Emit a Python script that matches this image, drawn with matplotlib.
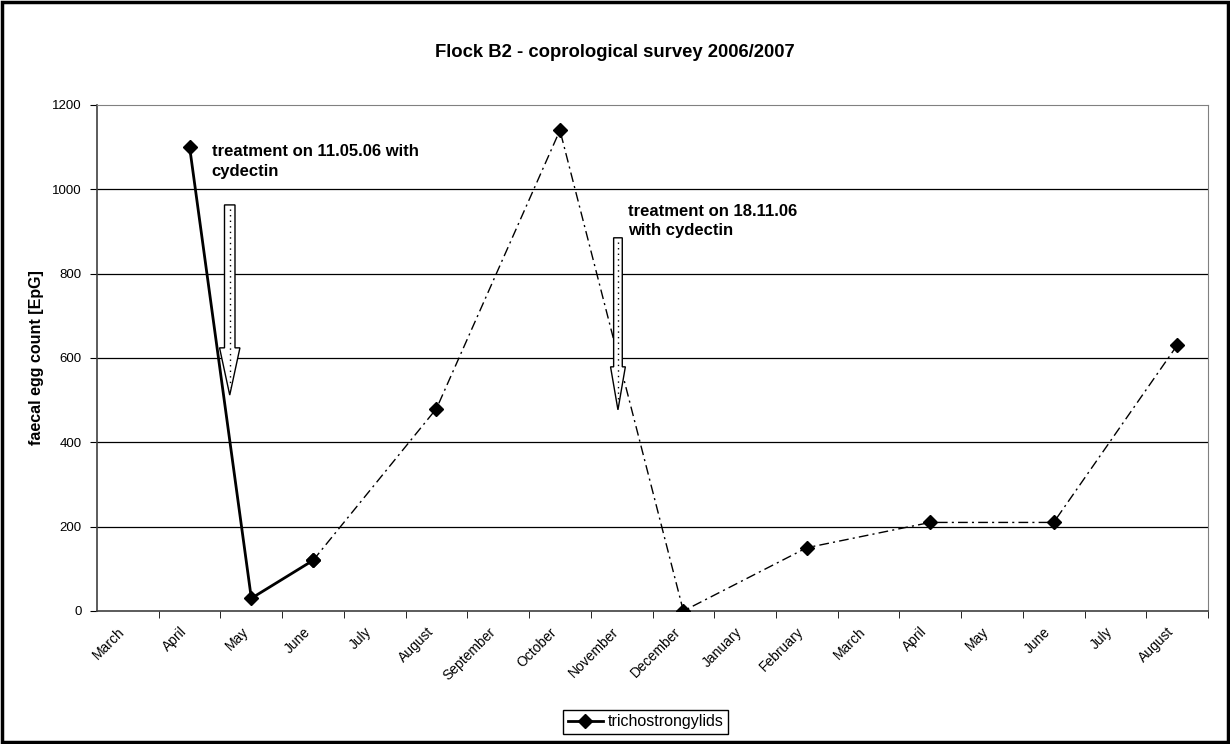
import matplotlib

matplotlib.use("Agg")
import matplotlib.pyplot as plt
from matplotlib.lines import Line2D
from matplotlib.patches import FancyArrow, Rectangle
from matplotlib.transforms import ScaledTranslation

plt.rcParams["font.family"] = ["Liberation Sans", "DejaVu Sans"]

# category axis (months of the survey)
months = ["March", "April", "May", "June", "July", "August", "September",
          "October", "November", "December", "January", "February", "March",
          "April", "May", "June", "July", "August"]

# sampling months (index into months) and egg counts
sample_idx = [1, 2, 3, 5, 7, 9, 11, 13, 15, 17]
epg = [1100, 30, 120, 480, 1140, 0, 150, 210, 210, 630]

fig = plt.figure(figsize=(12.3, 7.44), dpi=100)
ax = fig.add_axes([0.0789, 0.1788, 0.9032, 0.6801])

# gridlines
for yv in [200, 400, 600, 800, 1000]:
    ax.axhline(yv, color="black", lw=0.9, zorder=1)

# solid part (before/around first treatment) and dash-dot remainder
ax.plot(sample_idx[:3], epg[:3], color="black", lw=2.0, marker="D",
        markersize=7, zorder=3)
ax.plot(sample_idx[2:], epg[2:], color="black", lw=1.0,
        linestyle=(0, (7, 3, 1.5, 3)), marker="D", markersize=7, zorder=3)

# treatment arrows
def block_arrow(x, y_top, y_tip, head_len, width, head_w):
    arr = FancyArrow(x, y_top, 0, y_tip - y_top, width=width,
                     head_width=head_w, head_length=head_len,
                     length_includes_head=True, facecolor="white",
                     edgecolor="black", lw=1.0, zorder=4)
    ax.add_patch(arr)
    ax.plot([x, x], [y_top - 10, y_tip + 20], color="black", lw=1.0,
            linestyle=(0, (1, 3)), zorder=5)

block_arrow(1.65, 963, 512, 112, 0.17, 0.33)
block_arrow(7.94, 885, 477, 102, 0.14, 0.24)

ax.text(1.36, 1108, "treatment on 11.05.06 with\ncydectin", fontsize=12,
        fontweight="bold", va="top", ha="left", linespacing=1.4, zorder=6)
ax.text(8.11, 966, "treatment on 18.11.06\nwith cydectin", fontsize=12,
        fontweight="bold", va="top", ha="left", linespacing=1.4, zorder=6)

ax.set_xlim(-0.5, len(months) - 0.5)
ax.set_ylim(0, 1200)
ax.set_yticks(range(0, 1201, 200))
ax.tick_params(axis="y", direction="out", length=5, labelsize=9.5, pad=6)

ax.set_xticks(range(len(months)))
ax.set_xticklabels(months, rotation=45, ha="right", rotation_mode="anchor",
                   fontsize=10)
ax.tick_params(axis="x", which="major", length=0, pad=10)
shift = ScaledTranslation(-10 / 100, 0, fig.dpi_scale_trans)
for lab in ax.get_xticklabels():
    lab.set_transform(lab.get_transform() + shift)
ax.set_xticks([i + 0.5 for i in range(len(months))], minor=True)
ax.tick_params(axis="x", which="minor", direction="out", length=5)

for side in ["top", "right"]:
    ax.spines[side].set_color("#808080")
for side in ["left", "bottom"]:
    ax.spines[side].set_color("#404040")
    ax.spines[side].set_linewidth(1.2)

ax.set_ylabel("faecal egg count [EpG]", fontsize=11.5, fontweight="bold",
              labelpad=6)

fig.text(0.5, 0.930, "Flock B2 - coprological survey 2006/2007",
         ha="center", va="center", fontsize=13.3, fontweight="bold")

handle = Line2D([], [], color="black", lw=2.0, marker="D", markersize=7)
fig.legend([handle], ["trichostrongylids"], loc="center",
           bbox_to_anchor=(0.5248, 0.0296), fontsize=11.5, frameon=True,
           fancybox=False, edgecolor="black", framealpha=1,
           handlelength=2.2, handletextpad=0.3, borderpad=0.3)

# outer border
fig.add_artist(Rectangle((0.002, 0.003), 0.996, 0.994,
                         transform=fig.transFigure, fill=False,
                         edgecolor="black", lw=2.5))

fig.savefig("out.png", dpi=100)
plt.close(fig)
